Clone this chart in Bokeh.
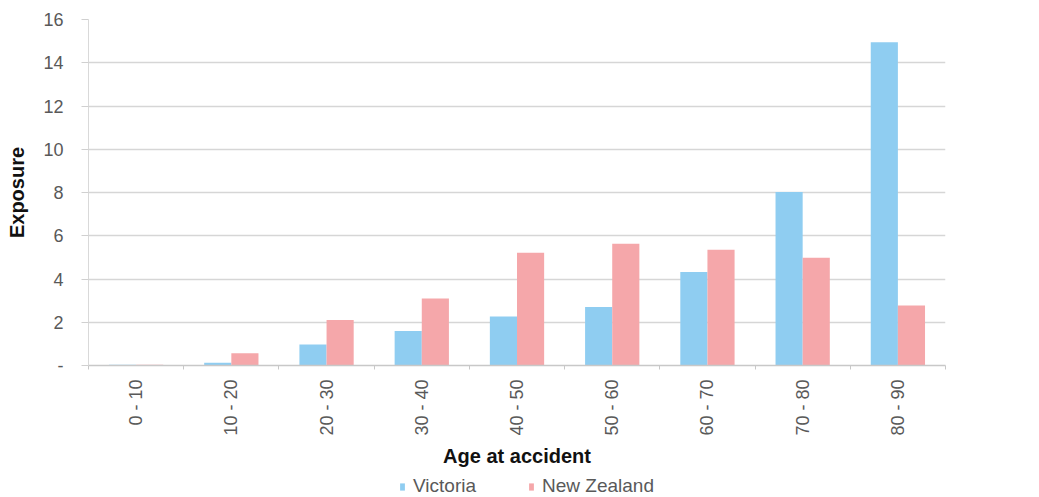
from math import pi

from bokeh.embed import file_html
from bokeh.layouts import column
from bokeh.models import (ColumnDataSource, FixedTicker, Legend, LegendItem,
                          Range1d)
from bokeh.plotting import figure
from bokeh.resources import INLINE

# Exposure by age band at accident
categories = ["0 - 10", "10 - 20", "20 - 30", "30 - 40", "40 - 50",
              "50 - 60", "60 - 70", "70 - 80", "80 - 90"]
victoria = [0.03, 0.13, 0.97, 1.6, 2.27, 2.7, 4.32, 8.02, 14.95]
new_zealand = [0.04, 0.57, 2.1, 3.1, 5.21, 5.63, 5.35, 4.98, 2.78]
y_ticks = [0, 2, 4, 6, 8, 10, 12, 14, 16]
y_tick_labels = ["-", "2", "4", "6", "8", "10", "12", "14", "16"]

series_names = ["Victoria", "New Zealand"]
series_colors = ["#8fcdf1", "#f5a7aa"]

FONT = "Liberation Sans"
TEXT_GREY = "#595959"
BAR_W = 0.285

n = len(categories)
centres = [i + 0.5 for i in range(n)]
src = ColumnDataSource(dict(
    vic_x=[c - BAR_W / 2 for c in centres],
    nz_x=[c + BAR_W / 2 for c in centres],
    victoria=victoria,
    new_zealand=new_zealand,
))

p = figure(width=1039, height=473, output_backend="svg", toolbar_location=None,
           x_range=Range1d(0, n), y_range=Range1d(0, 16),
           min_border_left=88, min_border_right=94,
           min_border_top=19, min_border_bottom=108)
p.outline_line_color = None
p.background_fill_color = "white"
p.border_fill_color = "white"

p.vbar(x="vic_x", top="victoria", width=BAR_W, source=src,
       fill_color=series_colors[0], line_color=None)
p.vbar(x="nz_x", top="new_zealand", width=BAR_W, source=src,
       fill_color=series_colors[1], line_color=None)

# grid
p.xgrid.visible = False
p.ygrid.ticker = FixedTicker(ticks=y_ticks)
p.ygrid.grid_line_color = "#d6d6d6"
p.ygrid.grid_line_width = 1.5

# x axis: labels at band centres, tick marks at band boundaries
xa = p.xaxis[0]
xa.ticker = FixedTicker(ticks=centres, minor_ticks=list(range(n + 1)))
xa.major_label_overrides = {c: lab for c, lab in zip(centres, categories)}
xa.major_label_orientation = pi / 2
xa.major_tick_line_color = None
xa.major_tick_out = 0
xa.major_tick_in = 0
xa.minor_tick_out = 4
xa.minor_tick_in = 0
xa.minor_tick_line_color = "#c8c8c8"
xa.axis_line_color = "#c8c8c8"
xa.axis_line_width = 1.5
xa.major_label_standoff = 10
xa.major_label_text_font = FONT
xa.major_label_text_font_size = "18px"
xa.major_label_text_color = TEXT_GREY
xa.axis_label = "Age at accident"
xa.axis_label_text_font = FONT
xa.axis_label_text_font_size = "20px"
xa.axis_label_text_font_style = "bold"
xa.axis_label_text_color = "#111111"
xa.axis_label_standoff = 6

# y axis
ya = p.yaxis[0]
ya.ticker = FixedTicker(ticks=y_ticks)
ya.major_label_overrides = {t: lab for t, lab in zip(y_ticks, y_tick_labels)}
ya.minor_tick_line_color = None
ya.major_tick_out = 7
ya.major_tick_in = 0
ya.major_tick_line_color = "#d0d0d0"
ya.axis_line_color = "#d9d9d9"
ya.major_label_standoff = 18
ya.major_label_text_font = FONT
ya.major_label_text_font_size = "18px"
ya.major_label_text_color = TEXT_GREY
ya.axis_label = "Exposure"
ya.axis_label_text_font = FONT
ya.axis_label_text_font_size = "20px"
ya.axis_label_text_font_style = "bold"
ya.axis_label_text_color = "#111111"
ya.axis_label_standoff = 12

# legend strip under the chart; its key renderers sit outside the view
leg = figure(width=1039, height=24, output_backend="svg", toolbar_location=None,
             x_range=Range1d(0, 1), y_range=Range1d(0, 1),
             min_border=0, x_axis_location=None, y_axis_location=None)
leg.outline_line_color = None
leg.grid.visible = False
key_src = ColumnDataSource(dict(x=[-10], top=[0]))
keys = [leg.vbar(x="x", top="top", width=0.1, source=key_src,
                 fill_color=c, line_color=None) for c in series_colors]
legend = Legend(items=[LegendItem(label=name, renderers=[r])
                       for name, r in zip(series_names, keys)],
                orientation="horizontal", location=(311, 0),
                glyph_width=6, glyph_height=9, label_standoff=8, spacing=52,
                padding=0, margin=0, border_line_color=None,
                background_fill_alpha=0,
                label_text_font=FONT, label_text_font_size="19px",
                label_text_color=TEXT_GREY, label_height=20)
leg.add_layout(legend, "center")

open("out.html", "w").write(file_html(column(p, leg), INLINE))
